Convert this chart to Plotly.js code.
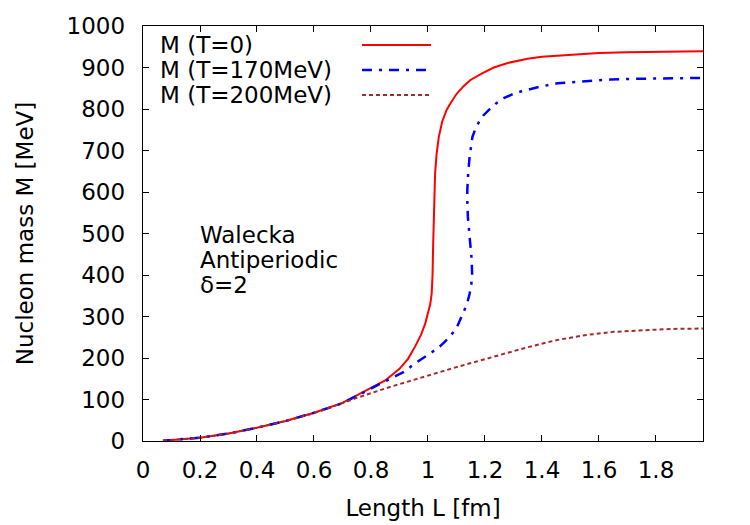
<!DOCTYPE html>
<html>
<head>
<meta charset="utf-8">
<script src="https://cdn.plot.ly/plotly-3.0.1.min.js"></script>
<style>html,body{margin:0;padding:0;background:#fff;}#chart{width:750px;height:525px;}</style>
</head>
<body>
<div id="chart"></div>
<script>
// T = 0
const L_T0 = [0.07,0.1,0.2,0.3,0.4,0.5,0.6,0.7,0.76,0.8,0.85,0.9,0.93,0.955,0.975,0.99,1.0,1.008,1.013,1.016,1.018,1.02,1.022,1.025,1.03,1.038,1.05,1.065,1.079,1.1,1.125,1.149,1.19,1.231,1.28,1.35,1.4,1.5,1.6,1.7,1.8,1.9,1.965];
const M_T0 = [0.5,2,8,18,32,48,68,92,113,127,146,174,198,228,255,282,308,330,355,400,470,540,600,645,690,733,770,797,814,836,855,870,886,900,911,921,926,931,935,937,938,938.5,939];
// T = 170 MeV
const L_T170 = [0.07,0.1,0.2,0.3,0.4,0.5,0.6,0.7,0.75,0.83,0.92,0.95,1.01,1.045,1.075,1.1,1.127,1.138,1.146,1.152,1.155,1.155,1.153,1.149,1.144,1.14,1.138,1.138,1.141,1.146,1.156,1.168,1.179,1.195,1.214,1.24,1.266,1.295,1.325,1.395,1.454,1.55,1.64,1.75,1.85,1.965];
const M_T170 = [0.5,2,8,18,32,48,68,91,108,137,168,185,212,230,250,272,314,333,355,378,400,420,440,470,508,540,575,605,645,685,733,755,769,785,798,814,826,835,842,854,862,867,871,873,874,875];
// T = 200 MeV
const L_T200 = [0.07,0.1,0.2,0.3,0.4,0.5,0.6,0.67,0.75,0.87,0.97,1.05,1.11,1.23,1.35,1.45,1.55,1.65,1.75,1.85,1.965];
const M_T200 = [0.5,2,8,18,32,48,67,84,104,131,152,168,180,203,226,243,255,263,267,270,271];

const seriesNames = ["M (T=0)", "M (T=170MeV)", "M (T=200MeV)"];
const noteLines = ["Walecka", "Antiperiodic", "δ=2"];

const FONT = "DejaVu Sans, Liberation Sans, Arial, sans-serif";
const FS = 23;
const styles = [
  {color: "#ff0000", width: 2, dash: "solid"},
  {color: "#0000ff", width: 2.5, dash: "10px,7px,3px,7px"},
  {color: "#a52a2a", width: 2, dash: "4px,3px"}
];
const xs = [L_T0, L_T170, L_T200];
const ys = [M_T0, M_T170, M_T200];

const traces = xs.map((x, i) => ({
  x: x, y: ys[i], type: "scatter", mode: "lines", name: seriesNames[i],
  line: {color: styles[i].color, width: styles[i].width, dash: styles[i].dash},
  showlegend: false, hoverinfo: "skip"
}));

// manual gnuplot-style key: text left, sample right
const annotations = [];
const shapes = [];
const W = 750, H = 525, ml = 143, mr = 47, mt = 26, mb = 84;
const pw = W - ml - mr, ph = H - mt - mb;
const px = v => (v - ml) / pw;
const py = v => 1 - (v - mt) / ph;
const keyY = [45, 70, 95];
seriesNames.forEach((n, i) => {
  annotations.push({xref: "paper", yref: "paper", x: px(158), y: py(keyY[i]), xanchor: "left", yanchor: "middle",
    text: n, showarrow: false, font: {family: FONT, size: FS, color: "#000"}});
  shapes.push({type: "line", xref: "paper", yref: "paper", x0: px(362), x1: px(431), y0: py(keyY[i]), y1: py(keyY[i]),
    line: {color: styles[i].color, width: styles[i].width, dash: styles[i].dash}});
});
noteLines.forEach((t, i) => {
  annotations.push({xref: "paper", yref: "paper", x: px(198), y: py(235 + 25 * i), xanchor: "left", yanchor: "middle",
    text: t, showarrow: false, font: {family: FONT, size: FS, color: "#000"}});
});

const axisCommon = {
  showline: true, linecolor: "#000", linewidth: 1.3, mirror: "ticks",
  ticks: "inside", ticklen: 6, tickwidth: 1, tickcolor: "#000",
  showgrid: false, zeroline: false,
  tickfont: {family: FONT, size: FS, color: "#000"}
};

const layout = {
  width: W, height: H,
  margin: {l: ml, r: mr, t: mt, b: mb},
  paper_bgcolor: "#fff", plot_bgcolor: "#fff",
  xaxis: Object.assign({}, axisCommon, {
    range: [0, 1.965], tick0: 0, dtick: 0.2, ticklabelstandoff: 8,
    title: {text: "Length L [fm]", font: {family: FONT, size: FS, color: "#000"}, standoff: 18}
  }),
  yaxis: Object.assign({}, axisCommon, {
    range: [0, 1000], tick0: 0, dtick: 100, ticklabelstandoff: 12,
    title: {text: "Nucleon mass M [MeV]", font: {family: FONT, size: FS, color: "#000"}, standoff: 26}
  }),
  annotations: annotations,
  shapes: shapes
};

Plotly.newPlot("chart", traces, layout, {displayModeBar: false, staticPlot: true});
</script>
</body>
</html>
